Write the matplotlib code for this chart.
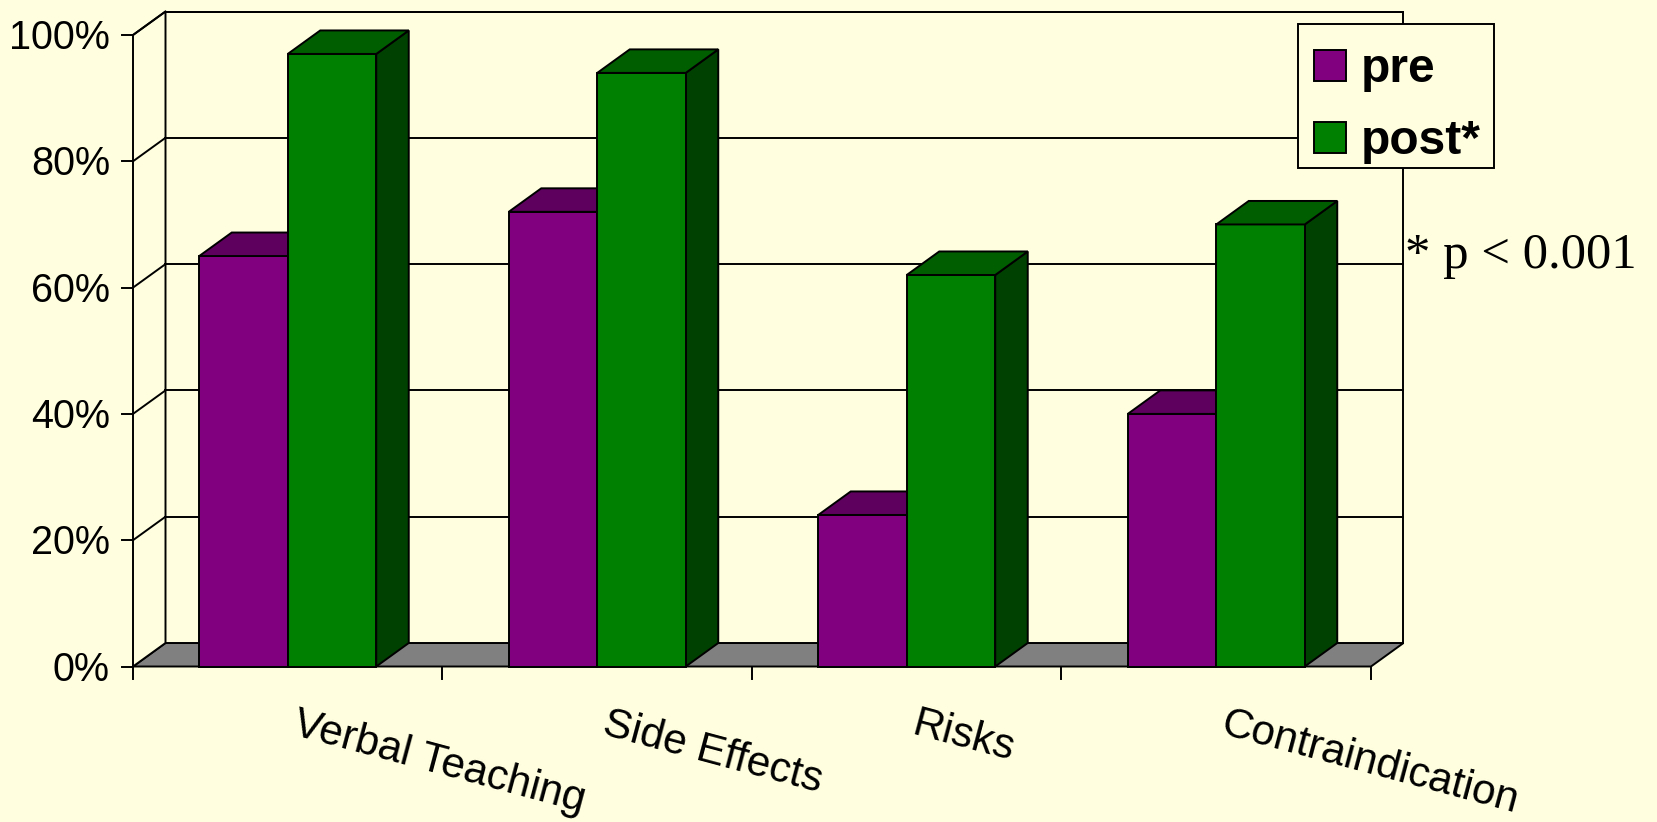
import matplotlib.pyplot as plt
from matplotlib.patches import Polygon, Rectangle

categories = ["Verbal Teaching", "Side Effects", "Risks", "Contraindication"]
pre_vals = [65, 72, 24, 40]
post_vals = [97, 94, 62, 70]
series_names = ["pre", "post*"]
yticks = [0, 20, 40, 60, 80, 100]
note = "* p < 0.001"

BG = "#FFFFE0"
# front, top, side shades
PURPLE = ("#800080", "#5E005E", "#400040")
GREEN = ("#008000", "#005E00", "#004000")
FLOOR = "#808080"
LW = 1.4

W, H = 1658, 822
fig = plt.figure(figsize=(W / 100, H / 100), dpi=100, facecolor=BG)
ax = fig.add_axes([0, 0, 1, 1])
ax.set_facecolor(BG)
ax.axis("off")

# pixel geometry of the front plane -> data units (x: categories, y: percent)
left_px, cat_px = 133, 309.5
zero_px, pct_px = 666.5, 6.315
ax.set_xlim(-left_px / cat_px, (W - left_px) / cat_px)
ax.set_ylim(-(H - zero_px) / pct_px, zero_px / pct_px)
dx = 32.5 / cat_px          # depth offset
dy = 23.5 / pct_px
n = len(categories)
ymax = yticks[-1]
bw = 88.5 / cat_px          # bar width

def poly(pts, fc, z):
    ax.add_patch(Polygon(pts, closed=True, facecolor=fc, edgecolor="black",
                         linewidth=LW, zorder=z, joinstyle="miter"))

# walls and floor
poly([(0, 0), (n, 0), (n + dx, dy), (dx, dy)], FLOOR, 1)
poly([(dx, dy), (n + dx, dy), (n + dx, ymax + dy), (dx, ymax + dy)], BG, 1)
poly([(0, 0), (dx, dy), (dx, ymax + dy), (0, ymax)], BG, 1)

for t in yticks[1:]:
    ax.plot([dx, n + dx], [t + dy, t + dy], color="black", lw=LW, zorder=2)
    ax.plot([0, dx], [t, t + dy], color="black", lw=LW, zorder=2)

# axis ticks
for t in yticks:
    ax.plot([-11 / cat_px, 0], [t, t], color="black", lw=LW, zorder=2)
    ax.text(-23 / cat_px, t - 14 / pct_px, f"{t}%", ha="right", va="baseline",
            fontsize=28.5, family="Liberation Sans")
for i in range(n + 1):
    ax.plot([i, i], [0, -12 / pct_px], color="black", lw=LW, zorder=2)

# 3D bars
z = 3
for i in range(n):
    for j, (vals, cols) in enumerate([(pre_vals, PURPLE), (post_vals, GREEN)]):
        v = vals[i]
        x0 = i + 0.5 - bw + j * bw
        x1 = x0 + bw
        poly([(x1, 0), (x1 + dx, dy), (x1 + dx, v + dy), (x1, v)], cols[2], z)
        poly([(x0, 0), (x1, 0), (x1, v), (x0, v)], cols[0], z + 1)
        poly([(x0, v), (x1, v), (x1 + dx, v + dy), (x0 + dx, v + dy)], cols[1], z + 1)
        z += 2

# category labels
for i, lab in enumerate(categories):
    ax.text(i + 0.5 + 12 / cat_px, -38 / pct_px, lab, rotation=-15,
            rotation_mode="anchor", ha="left", va="top",
            fontsize=30.5, family="Liberation Sans")

# legend box (figure pixels, y from top)
def fx(px):
    return px / W

def fy(py):
    return 1 - py / H

fig.patches.append(Rectangle((fx(1298), fy(168)), fx(1494) - fx(1298), fy(24) - fy(168),
                             transform=fig.transFigure, facecolor=BG, edgecolor="black",
                             linewidth=LW, zorder=20))
for k, (name, cols) in enumerate(zip(series_names, [PURPLE, GREEN])):
    top = 50 + k * 72
    fig.patches.append(Rectangle((fx(1314), fy(top + 31)), fx(1346) - fx(1314), fy(top) - fy(top + 31),
                                 transform=fig.transFigure, facecolor=cols[0],
                                 edgecolor="black", linewidth=LW, zorder=21))
    fig.text(fx(1361), fy(top + 32), name, ha="left", va="baseline", fontsize=34.5,
             fontweight="bold", family="Liberation Sans", zorder=22)

fig.text(fx(1405), fy(268), note, ha="left", va="baseline",
         fontsize=36.5, family="Liberation Serif")

fig.savefig("out.png", dpi=100, facecolor=BG)
